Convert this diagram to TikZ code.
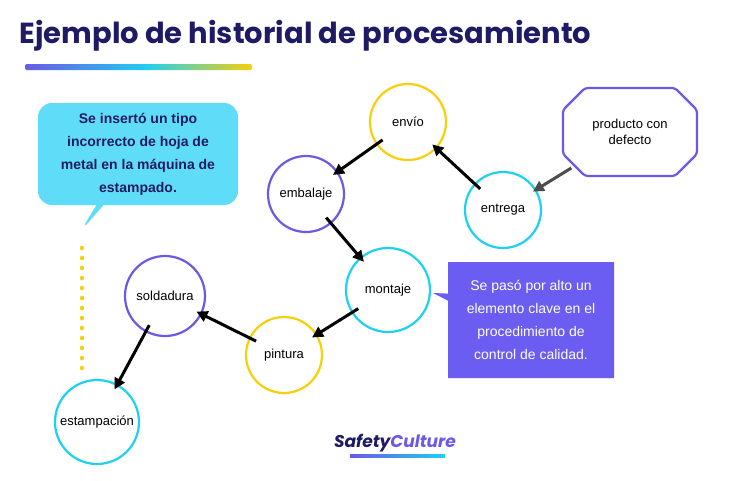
\documentclass[tikz,border=0pt]{standalone}
\usepackage{fontspec}
\setmainfont{Poppins}
\newfontfamily\bodyfont{Liberation Sans}
\usetikzlibrary{shapes.geometric,shapes.callouts,arrows.meta}
\definecolor{navy}{HTML}{1F1A66}
\definecolor{scyellow}{HTML}{F7CF0A}
\definecolor{scpurple}{HTML}{6A5AE6}
\definecolor{sccyan}{HTML}{1ED0F2}
\definecolor{calloutcyan}{HTML}{5FDDF8}
\definecolor{boxpurple}{HTML}{6B5CF2}
\begin{document}
\begin{tikzpicture}[x=1pt,y=-1pt,>={Triangle[length=11pt,width=11pt]},
                    step node/.style={circle,draw,line width=2.2pt,minimum size=76pt,inner sep=0pt,fill=white,font=\bodyfont\fontsize{13}{15}\selectfont},
                    flow/.style={->,line width=3pt,black,shorten <=-8pt,shorten >=-6pt}]
  \useasboundingbox (0,0) rectangle (748,480);
  \fill[white] (0,0) rectangle (748,480);
  % title
  \node[anchor=west,text=navy,font=\bfseries\fontsize{29}{34}\selectfont] (title) at (16,36) {Ejemplo de historial de procesamiento};
  \shade[left color=scpurple,right color=sccyan,rounded corners=2pt] (25,64) rectangle (150,70);
  \shade[left color=sccyan,right color=scyellow,rounded corners=2pt] (145,64) rectangle (252,70);

  % steps
  \node[step node,draw=scyellow] (envio) at (408,122) {envío};
  \node[step node,draw=scpurple] (embalaje) at (306,194) {embalaje};
  \node[step node,draw=sccyan] (entrega) at (503,210) {entrega};
  \node[step node,draw=sccyan,minimum size=84pt] (montaje) at (388,290) {montaje};
  \node[step node,draw=scpurple,minimum size=80pt] (soldadura) at (165,296) {soldadura};
  \node[step node,draw=scyellow] (pintura) at (284,355) {pintura};
  \node[step node,draw=sccyan,minimum size=84pt] (estampacion) at (97,422) {estampación};

  \node[minimum width=134pt,minimum height=90pt] (defecto) at (630,132) {};
  \draw[scpurple,line width=2.2pt,fill=white,rounded corners=3pt]
    (585,88) -- (675,88) -- (697,110) -- (697,154) -- (675,176) -- (585,176) -- (563,154) -- (563,110) -- cycle;
  \node[font=\bodyfont\fontsize{13}{16}\selectfont,align=center] at (defecto) {producto con\\defecto};

  % notes
  \draw[scyellow,line width=4.5pt,line cap=round,dash pattern=on 0pt off 10pt] (82,248) -- (82,378);
  \node[rectangle callout,fill=calloutcyan,rounded corners=14pt,minimum width=200pt,minimum height=102pt,
        callout absolute pointer={(80,232)},text=navy,align=center,
        font=\bodyfont\bfseries\fontsize{14}{23}\selectfont] (nota1) at (138,154)
        {Se insertó un tipo\\incorrecto de hoja de\\metal en la máquina de\\estampado.};
  \node[rectangle callout,fill=boxpurple,minimum width=166pt,minimum height=116pt,
        callout absolute pointer={(433,293)},text=white,align=center,
        font=\bodyfont\fontsize{14}{23}\selectfont] (nota2) at (531,320)
        {Se pasó por alto un\\elemento clave en el\\procedimiento de\\control de calidad.};

  % flow
  \draw[flow] (envio) -- (embalaje);
  \draw[flow] (embalaje) -- (montaje);
  \draw[flow] (montaje) -- (pintura);
  \draw[flow] (pintura) -- (soldadura);
  \draw[flow] (soldadura) -- (estampacion);
  \draw[flow] (entrega) -- (envio);
  \draw[->,line width=3pt,black!70,shorten <=-10pt,shorten >=-4pt] (defecto) -- (entrega);

  % logo
  \node[font=\bfseries\itshape\fontsize{17}{20}\selectfont,text=navy] (logo) at (395,443) {Safety\textcolor{scpurple}{Culture}};
  \shade[left color=scpurple,right color=sccyan] (350,454) rectangle (445,457);
\end{tikzpicture}
\end{document}
